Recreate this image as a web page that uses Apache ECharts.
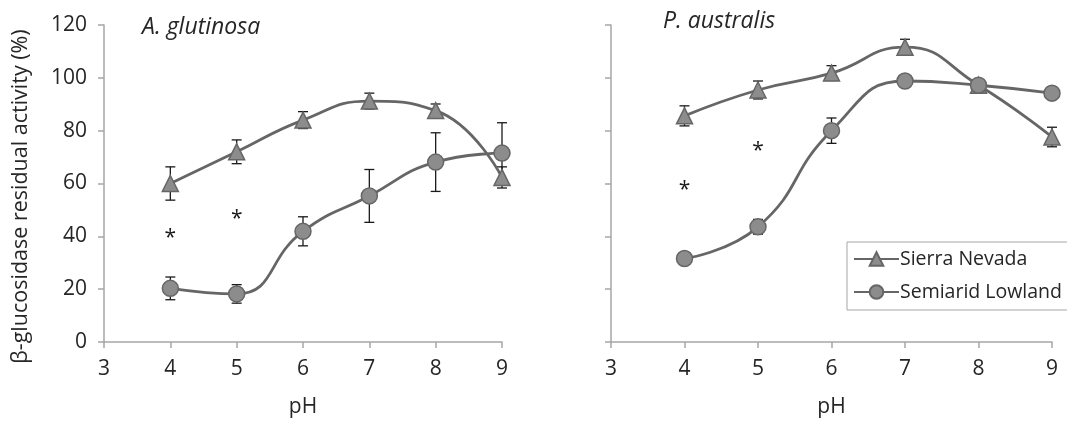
<!DOCTYPE html>
<html>
<head>
<meta charset="utf-8">
<script src="https://cdn.jsdelivr.net/npm/echarts@6/dist/echarts.min.js"></script>
<style>
html,body{margin:0;padding:0;background:#fff;}
#chart{width:1067px;height:421px;}
</style>
</head>
<body>
<div id="chart"></div>
<script>
// ---- data ----
const pH = [4, 5, 6, 7, 8, 9];
const xTicks = [3, 4, 5, 6, 7, 8, 9];
const yTicks = [0, 20, 40, 60, 80, 100, 120];
const seriesNames = ['Sierra Nevada', 'Semiarid Lowland'];
const panelTitles = ['A. glutinosa', 'P. australis'];

// A. glutinosa
const agSierra = [60, 72, 84, 91.2, 87.6, 62.3];
const agSierraErr = [6.3, 4.5, 3.2, 3.0, 2.5, 4.0];
const agLowland = [20.3, 18.2, 41.9, 55.3, 68.1, 71.5];
const agLowlandErr = [4.3, 3.5, 5.5, 10.0, 11.1, 11.5];
const agStars = [[4, 40.2], [5, 47.3]];

// P. australis
const paSierra = [85.6, 95.4, 101.8, 111.6, 97.2, 77.6];
const paSierraErr = [3.8, 3.4, 2.8, 3.0, 1.5, 3.7];
const paLowland = [31.6, 43.6, 80.0, 98.8, 97.2, 94.2];
const paLowlandErr = [1.5, 2.8, 4.8, 1.0, 1.5, 2.4];
const paStars = [[4, 58.2], [5, 73.0]];

// ---- styles ----
const lineColor = '#666666';
const fillColor = '#8c8c8c';
const axisColor = '#a6a6a6';
const textColor = '#262626';
const font = 'Open Sans';

function pairs(xs, ys) { return xs.map((x, i) => [x, ys[i]]); }
function errData(xs, ys, es) { return xs.map((x, i) => [x, ys[i] - es[i], ys[i] + es[i]]); }

function errSeries(idx, data) {
  return {
    type: 'custom', xAxisIndex: idx, yAxisIndex: idx, z: 2, silent: true,
    data: data,
    renderItem: function (params, api) {
      const x = api.value(0);
      const lo = api.coord([x, api.value(1)]);
      const hi = api.coord([x, api.value(2)]);
      const cap = 5;
      const st = { stroke: '#1a1a1a', lineWidth: 1.3 };
      return {
        type: 'group',
        children: [
          { type: 'line', shape: { x1: lo[0], y1: lo[1], x2: hi[0], y2: hi[1] }, style: st },
          { type: 'line', shape: { x1: lo[0] - cap, y1: lo[1], x2: lo[0] + cap, y2: lo[1] }, style: st },
          { type: 'line', shape: { x1: hi[0] - cap, y1: hi[1], x2: hi[0] + cap, y2: hi[1] }, style: st }
        ]
      };
    }
  };
}

function starSeries(idx, data) {
  return {
    type: 'custom', xAxisIndex: idx, yAxisIndex: idx, z: 6, silent: true,
    data: data,
    renderItem: function (params, api) {
      const p = api.coord([api.value(0), api.value(1)]);
      return {
        type: 'text',
        style: { text: '*', x: p[0], y: p[1] + 2, align: 'center', verticalAlign: 'middle',
                 fontSize: 21, fontFamily: font, fill: '#1a1a1a' }
      };
    }
  };
}

function lineSeries(idx, name, data, symbol) {
  return {
    name: name, type: 'line', xAxisIndex: idx, yAxisIndex: idx,
    data: data, smooth: 0.5, symbol: symbol, symbolSize: 16,
    lineStyle: { color: lineColor, width: 2.8 },
    itemStyle: { color: fillColor, borderColor: lineColor, borderWidth: 1.5 },
    z: 3
  };
}

function xAxis(idx) {
  return {
    type: 'value', gridIndex: idx, min: 3, max: 9, interval: 1,
    name: 'pH', nameLocation: 'middle', nameGap: 55,
    nameTextStyle: { fontSize: 21, fontFamily: font, color: textColor },
    axisLine: { lineStyle: { color: axisColor, width: 1.5 } },
    axisTick: { show: true, length: 6, lineStyle: { color: axisColor, width: 1.5 } },
    axisLabel: { fontSize: 21, fontFamily: font, color: textColor, margin: 17,
                 formatter: v => xTicks.includes(v) ? String(v) : '' },
    splitLine: { show: false }
  };
}

function yAxis(idx, showLabels) {
  return {
    type: 'value', gridIndex: idx, min: 0, max: 120, interval: 20,
    name: showLabels ? 'β-glucosidase residual activity (%)' : '',
    nameLocation: 'middle', nameGap: 72,
    nameTextStyle: { fontSize: 21.5, fontFamily: font, color: textColor, padding: [0, 26, 0, 0] },
    axisLine: { show: true, lineStyle: { color: axisColor, width: 1.5 } },
    axisTick: { show: true, length: 6, lineStyle: { color: axisColor, width: 1.5 } },
    axisLabel: { show: showLabels, fontSize: 21, fontFamily: font, color: textColor, margin: 17,
                 formatter: v => yTicks.includes(v) ? String(v) : '' },
    splitLine: { show: false }
  };
}

const chart = echarts.init(document.getElementById('chart'), null, { renderer: 'canvas' });
chart.setOption({
  animation: false,
  backgroundColor: '#ffffff',
  title: [
    { text: panelTitles[0], left: 137, top: 11,
      textStyle: { fontSize: 23, fontStyle: 'italic', fontWeight: 'normal', fontFamily: font, color: textColor } },
    { text: panelTitles[1], left: 658, top: 5,
      textStyle: { fontSize: 23, fontStyle: 'italic', fontWeight: 'normal', fontFamily: font, color: textColor } }
  ],
  legend: {
    data: seriesNames, orient: 'vertical', left: 847, top: 242,
    padding: [7, 10, 8, 6], itemGap: 13, itemWidth: 45, itemHeight: 17,
    borderColor: '#a6a6a6', borderWidth: 1, backgroundColor: '#fff',
    textStyle: { fontSize: 19.5, fontFamily: font, color: textColor, padding: [0, 0, 0, -4] }
  },
  grid: [
    { left: 104, right: 565, top: 25, bottom: 79, containLabel: false, outerBoundsMode: 'none' },
    { left: 611, right: 15, top: 25, bottom: 79, containLabel: false, outerBoundsMode: 'none' }
  ],
  xAxis: [xAxis(0), xAxis(1)],
  yAxis: [yAxis(0, true), yAxis(1, false)],
  series: [
    lineSeries(0, seriesNames[0], pairs(pH, agSierra), 'triangle'),
    lineSeries(0, seriesNames[1], pairs(pH, agLowland), 'circle'),
    lineSeries(1, seriesNames[0], pairs(pH, paSierra), 'triangle'),
    lineSeries(1, seriesNames[1], pairs(pH, paLowland), 'circle'),
    errSeries(0, errData(pH, agSierra, agSierraErr)),
    errSeries(0, errData(pH, agLowland, agLowlandErr)),
    errSeries(1, errData(pH, paSierra, paSierraErr)),
    errSeries(1, errData(pH, paLowland, paLowlandErr)),
    starSeries(0, agStars),
    starSeries(1, paStars)
  ]
});
</script>
</body>
</html>
